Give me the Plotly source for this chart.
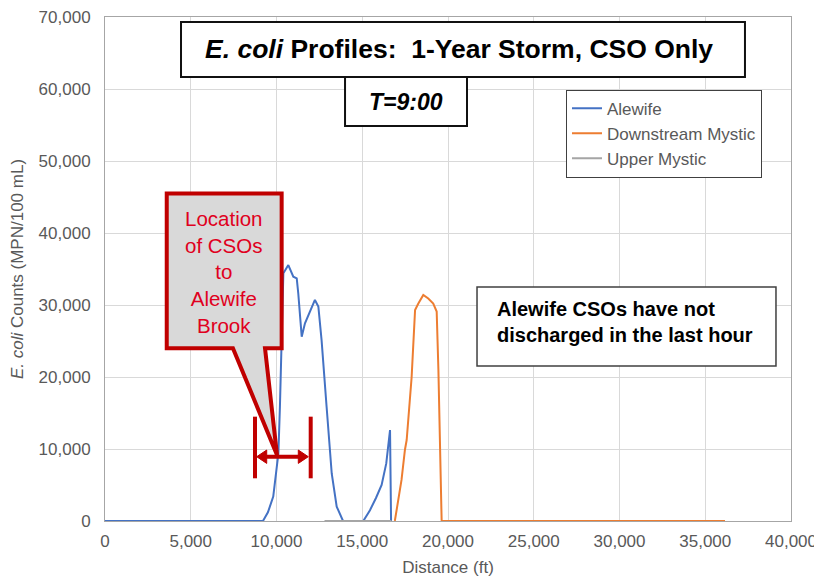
import plotly.graph_objects as go

# ---------------- data ----------------
alewife_x = [0, 5000, 9000, 9210, 9500, 9810, 10110, 10200, 10400, 10610, 10690, 10980, 11180,
             11270, 11470, 11660, 11950, 12240, 12440, 12630, 12920, 13220, 13510, 13880,
             15060, 15450, 15800, 16130, 16400, 16620, 16680]
alewife_y = [0, 0, 0, 0, 1200, 3400, 9400, 15900, 34400, 35300, 35550, 33930, 33700,
             31600, 25600, 27450, 29100, 30700, 29800, 25100, 15900, 6600, 2000, 0,
             0, 1500, 3200, 5000, 8000, 12640, 0]

down_x = [16900, 17290, 17490, 17590, 17880, 18080, 18270, 18560, 18850, 19140, 19340,
          19440, 19630, 20000, 25000, 30000, 36150]
down_y = [0, 5700, 9900, 11250, 20000, 29300, 30200, 31400, 30900, 30200, 29100,
          21000, 0, 0, 0, 0, 0]

upper_x = [12800, 14000, 15000, 16000, 16700]
upper_y = [0, 0, 0, 0, 0]

series_names = ["Alewife", "Downstream Mystic", "Upper Mystic"]
series_colors = ["#4472C4", "#ED7D31", "#A5A5A5"]

title_text = "<i>E. coli</i> Profiles:  1-Year Storm, CSO Only"
time_text = "<i>T=9:00</i>"
note_text = "Alewife CSOs have not<br>discharged in the last hour"
callout_text = "Location<br>of CSOs<br>to<br>Alewife<br>Brook"

FONT = "Liberation Sans, Arial, sans-serif"
GREY = "#595959"
RED = "#C00000"

fig = go.Figure()
for xs, ys, name, col in zip([alewife_x, down_x, upper_x], [alewife_y, down_y, upper_y],
                             series_names, series_colors):
    fig.add_trace(go.Scatter(x=xs, y=ys, mode="lines", name=name,
                             line=dict(color=col, width=2)))

shapes = []
# callout (data coordinates)
shapes.append(dict(type="path", xref="x", yref="y", layer="above",
                   path="M 3600,45500 L 10300,45500 L 10300,24000 L 9330,24000 L 10030,9170 "
                        "L 7460,24000 L 3600,24000 Z",
                   fillcolor="#D9D9D9", line=dict(color=RED, width=4)))
# location bracket
for bx in (8746, 11994):
    shapes.append(dict(type="line", xref="x", yref="y", layer="above",
                       x0=bx, x1=bx, y0=5930, y1=14490, line=dict(color=RED, width=4)))
shapes.append(dict(type="line", xref="x", yref="y", layer="above",
                   x0=9300, x1=11400, y0=8930, y1=8930, line=dict(color=RED, width=4)))
shapes.append(dict(type="path", xref="x", yref="y", layer="above",
                   path="M 8845,8930 L 9429,9860 L 9429,8000 Z",
                   fillcolor=RED, line=dict(color=RED, width=1)))
shapes.append(dict(type="path", xref="x", yref="y", layer="above",
                   path="M 11854,8930 L 11271,9860 L 11271,8000 Z",
                   fillcolor=RED, line=dict(color=RED, width=1)))
# title box, time box, note box (paper coordinates)
shapes.append(dict(type="rect", xref="paper", yref="paper", layer="above",
                   x0=0.1108, x1=0.9329, y0=0.881, y1=0.990,
                   fillcolor="white", line=dict(color="#111111", width=2)))
shapes.append(dict(type="rect", xref="paper", yref="paper", layer="above",
                   x0=0.3499, x1=0.5277, y0=0.7837, y1=0.881,
                   fillcolor="white", line=dict(color="#111111", width=2)))
shapes.append(dict(type="rect", xref="paper", yref="paper", layer="above",
                   x0=0.5423, x1=0.9781, y0=0.3075, y1=0.4643,
                   fillcolor="white", line=dict(color="#404040", width=1.5)))

annotations = [
    dict(text="<b>" + title_text + "</b>", xref="paper", yref="paper", x=0.516, y=0.9365,
         showarrow=False, font=dict(family=FONT, size=26.5, color="black"),
         xanchor="center", yanchor="middle"),
    dict(text="<b>" + time_text + "</b>", xref="paper", yref="paper", x=0.4388, y=0.8313,
         showarrow=False, font=dict(family=FONT, size=23, color="black"),
         xanchor="center", yanchor="middle"),
    dict(text="<b>" + note_text + "</b>", xref="paper", yref="paper", x=0.5685, y=0.394,
         showarrow=False, align="left", font=dict(family=FONT, size=20, color="black"),
         xanchor="left", yanchor="middle"),
    dict(text=callout_text, xref="x", yref="y", x=6940, y=34580,
         showarrow=False, align="center", font=dict(family=FONT, size=20.5, color="#E00020"),
         xanchor="center", yanchor="middle"),
]

# the page body adds an 8px margin, so the figure is drawn 8px smaller and shifted
fig.update_layout(
    width=814, height=570,
    margin=dict(l=97, r=31, t=9, b=57),
    paper_bgcolor="white", plot_bgcolor="white",
    font=dict(family=FONT, size=17, color=GREY),
    shapes=shapes, annotations=annotations,
    showlegend=True,
    legend=dict(x=0.672, y=0.856, xanchor="left", yanchor="top",
                bgcolor="white", bordercolor="#404040", borderwidth=1,
                font=dict(family=FONT, size=17, color=GREY),
                itemwidth=30, tracegroupgap=0),
    xaxis=dict(range=[0, 40000], dtick=5000, tickformat=",", showgrid=True,
               gridcolor="#D9D9D9", gridwidth=1, zeroline=False, automargin=False,
               showline=True, linecolor="#A6A6A6", linewidth=1, mirror=True,
               ticks="", tickfont=dict(size=17, color=GREY), ticklabeloverflow="allow",
               ticklabelstandoff=5,
               title=dict(text="Distance (ft)", font=dict(size=17, color=GREY), standoff=10)),
    yaxis=dict(range=[0, 70000], dtick=10000, tickformat=",", showgrid=True,
               gridcolor="#D9D9D9", gridwidth=1, zeroline=False, automargin=False,
               showline=True, linecolor="#A6A6A6", linewidth=1, mirror=True,
               ticks="", tickfont=dict(size=17, color=GREY), ticklabelstandoff=10,
               ticklabeloverflow="allow",
               title=dict(text="<i>E. coli</i> Counts (MPN/100 mL)",
                          font=dict(size=17, color=GREY), standoff=10)),
)

fig.write_html("out.html")
